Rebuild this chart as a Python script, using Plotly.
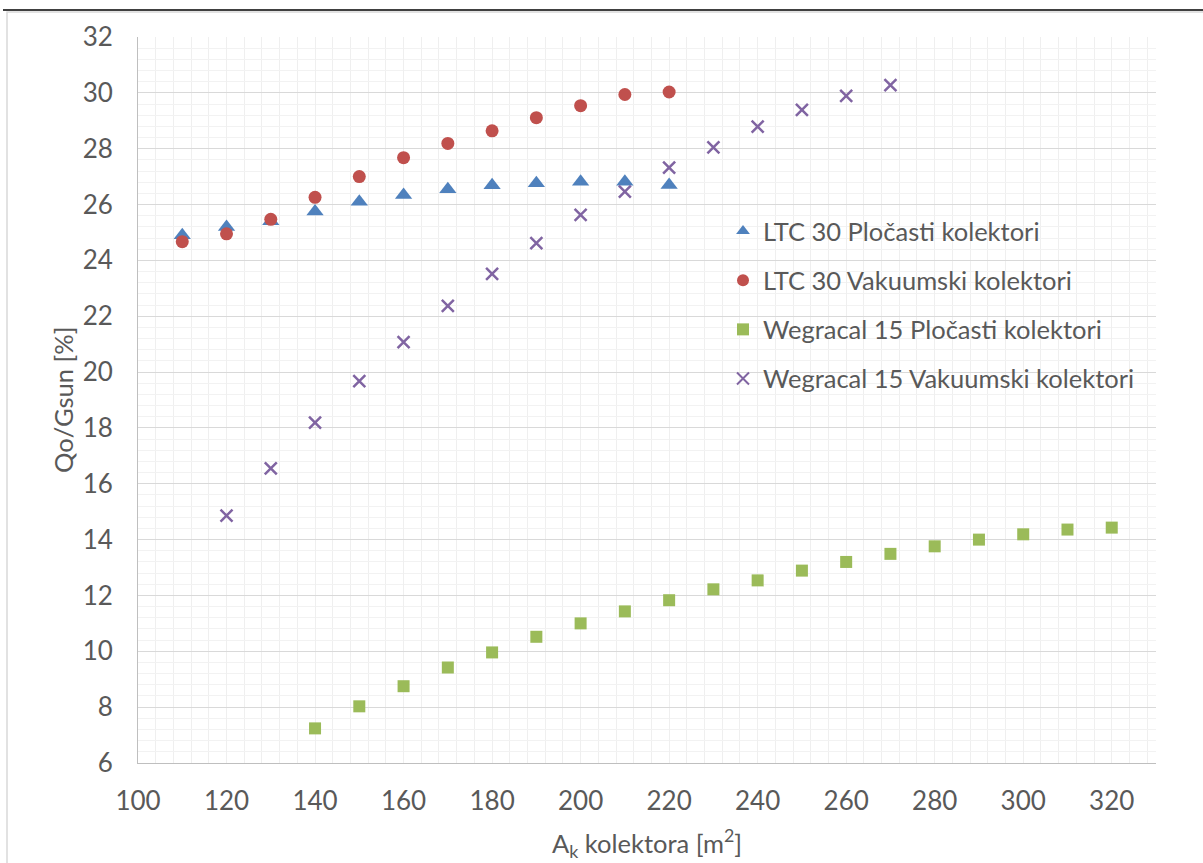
import plotly.graph_objects as go

# Površina kolektora [m2]
x_ltc = [110, 120, 130, 140, 150, 160, 170, 180, 190, 200, 210, 220]
x_weg_ploc = [140, 150, 160, 170, 180, 190, 200, 210, 220, 230, 240, 250,
              260, 270, 280, 290, 300, 310, 320]
x_weg_vak = [120, 130, 140, 150, 160, 170, 180, 190, 200, 210, 220, 230,
             240, 250, 260, 270]

# Qo/Gsun [%]
ltc_ploc = [24.9, 25.2, 25.4, 25.75, 26.1, 26.34, 26.55, 26.69, 26.76, 26.82, 26.82, 26.7]
ltc_vak = [24.67, 24.95, 25.47, 26.26, 27.0, 27.68, 28.19, 28.64, 29.11, 29.54, 29.94, 30.03]
weg_ploc = [7.24, 8.03, 8.75, 9.42, 9.96, 10.52, 11.0, 11.43, 11.83, 12.22, 12.54, 12.89,
            13.2, 13.49, 13.76, 14.0, 14.19, 14.36, 14.43]
weg_vak = [14.86, 16.55, 18.19, 19.68, 21.07, 22.37, 23.52, 24.62, 25.63, 26.46, 27.32,
           28.05, 28.79, 29.39, 29.89, 30.28]

names = ['LTC 30 Pločasti kolektori', 'LTC 30 Vakuumski kolektori',
         'Wegracal 15 Pločasti kolektori', 'Wegracal 15 Vakuumski kolektori']

FONT = 'Lato'
TXT = '#595959'

# plot area in pixels (left, right, top, bottom)
L, R, T, B = 138, 1156, 37, 763
W = R - L
H = B - T

fig = go.Figure()
fig.add_trace(go.Scatter(x=x_ltc, y=ltc_ploc, mode='markers', name=names[0], legendgroup='a',
                         marker=dict(symbol='triangle-up', size=15, color='#4F81BD')))
fig.add_trace(go.Scatter(x=x_ltc, y=ltc_vak, mode='markers', name=names[1], legendgroup='b',
                         marker=dict(symbol='circle', size=13, color='#C0504D')))
fig.add_trace(go.Scatter(x=x_weg_ploc, y=weg_ploc, mode='markers', name=names[2], legendgroup='c',
                         marker=dict(symbol='square', size=12, color='#9BBB59')))
fig.add_trace(go.Scatter(x=x_weg_vak, y=weg_vak, mode='markers', name=names[3], legendgroup='d',
                         marker=dict(symbol='x-thin', size=12, color='#8064A2',
                                     line=dict(width=2.5, color='#8064A2'))))

fig.update_layout(
    width=1203, height=863,
    margin=dict(l=L, r=1203 - R, t=T, b=863 - B),
    paper_bgcolor='white', plot_bgcolor='white',
    font=dict(family=FONT, color=TXT, size=22),
    showlegend=True,
    legend=dict(x=(723 - L) / W, y=(B - 208) / H, xanchor='left', yanchor='top',
                font=dict(family=FONT, size=25.5, color=TXT), bgcolor='rgba(0,0,0,0)',
                tracegroupgap=13, traceorder='grouped', itemsizing='constant'),
    xaxis=dict(range=[100, 330], dtick=20, tick0=100, showgrid=True, gridcolor='#efefef',
               gridwidth=1, showline=True, linecolor='#bfbfbf', linewidth=1,
               ticks='outside', ticklen=15, tickcolor='rgba(0,0,0,0)',
               tickfont=dict(family=FONT, size=26, color=TXT),
               minor=dict(dtick=4, showgrid=True, gridcolor='#efefef', gridwidth=1),
               zeroline=False),
    yaxis=dict(range=[6, 32], dtick=2, tick0=6, showgrid=True, gridcolor='#d9d9d9',
               gridwidth=1, showline=True, linecolor='#bfbfbf', linewidth=1,
               ticks='outside', ticklen=19, tickcolor='rgba(0,0,0,0)',
               tickfont=dict(family=FONT, size=26, color=TXT),
               minor=dict(dtick=0.4, showgrid=True, gridcolor='#f2f2f2', gridwidth=1),
               zeroline=False),
)

# naslovi osi
fig.add_annotation(text='Qo/Gsun [%]', xref='paper', yref='paper',
                   x=0, xshift=75 - L - 12, y=0.5, xanchor='center', yanchor='middle',
                   textangle=-90, showarrow=False,
                   font=dict(family=FONT, size=25.5, color=TXT))
fig.add_annotation(text='A<sub>k</sub> kolektora [m<sup>2</sup>]', xref='paper', yref='paper',
                   x=0.5, y=(B - 843) / H, xanchor='center', yanchor='middle',
                   showarrow=False, font=dict(family=FONT, size=25.5, color=TXT))

# okvir grafikona i linija zaglavlja stranice
fig.add_shape(type='rect', xref='paper', yref='paper',
              x0=(7 - L) / W, x1=1.1, y0=-0.2, y1=(B - 12) / H,
              line=dict(color='#d9d9d9', width=1.5), fillcolor='rgba(0,0,0,0)', layer='below')
fig.add_shape(type='line', xref='paper', yref='paper',
              x0=(3 - L) / W, x1=1.1, y0=(B - 10) / H, y1=(B - 10) / H,
              line=dict(color='black', width=1.5))

fig.write_html('out.html', config={'displayModeBar': False},
               post_script="document.body.style.margin='0';")
